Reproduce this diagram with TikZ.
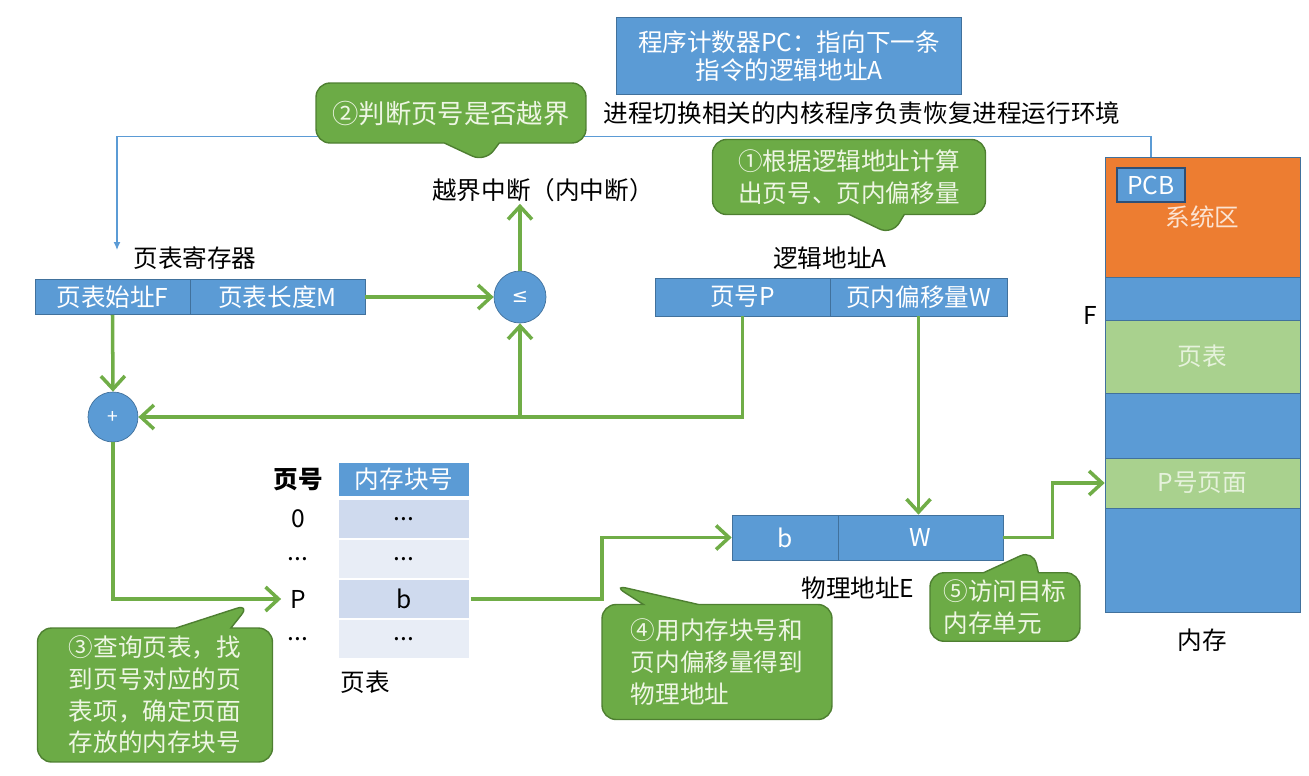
\documentclass[tikz,border=0pt]{standalone}
\usepackage{fontspec}
\setmainfont{Noto Sans CJK SC}
\newfontfamily\symfont{DejaVu Sans}
\usetikzlibrary{arrows.meta,shapes.callouts}
\definecolor{boxblue}{HTML}{5B9BD5}
\definecolor{boxedge}{HTML}{41719C}
\definecolor{pcbedge}{HTML}{2F4F75}
\definecolor{sysorange}{HTML}{ED7D31}
\definecolor{systext}{HTML}{FBE3D2}
\definecolor{pagegreen}{HTML}{A9D18E}
\definecolor{pagetext}{HTML}{E6F2DC}
\definecolor{flowgreen}{HTML}{70AD47}
\definecolor{notegreen}{HTML}{6CAB46}
\definecolor{noteedge}{HTML}{4E7F31}
\definecolor{notetext}{HTML}{EEF6E4}
\definecolor{rowdark}{HTML}{CFDAEE}
\definecolor{rowlight}{HTML}{E8EDF6}
\tikzset{
  lbl/.style={font=\fontsize{14}{17}\selectfont, inner sep=1pt},
  blk/.style={draw=boxedge, fill=boxblue, text=white, inner sep=0pt,
    font=\fontsize{14}{16}\selectfont},
  seg/.style={draw=boxedge, fill=#1, minimum width=3.9cm, inner sep=0pt,
    font=\fontsize{14}{16}\selectfont},
  cell/.style={fill=#1, draw=white, line width=1pt, minimum width=2.64cm,
    minimum height=0.8cm, inner sep=0pt, font=\fontsize{14}{16}\selectfont},
  note/.style={rectangle callout, rounded corners=8pt, draw=noteedge, line width=0.8pt,
    fill=notegreen, text=notetext, align=left, inner sep=4pt,
    font=\fontsize{14}{18}\selectfont, callout pointer width=1.1cm},
  flow/.style={draw=flowgreen, line width=2pt, -{Straight Barb[length=2.6mm,width=4.8mm]}},
  kline/.style={draw=boxblue, line width=0.7pt, -{Latex[length=1.6mm,width=1.4mm]}},
}
\begin{document}
\begin{tikzpicture}[x=0.02cm, y=-0.02cm]
\useasboundingbox (0,0) rectangle (1309,775);

% program counter
\node[blk, minimum width=6.9cm, minimum height=1.54cm, align=center] (pc) at (789,56)
  {程序计数器PC：指向下一条\\指令的逻辑地址A};
\node[lbl] (kern) at (862,113) {进程切换相关的内核程序负责恢复进程运行环境};

% page table register
\node[lbl] (regname) at (195,258) {页表寄存器};
\node[blk, minimum width=3.1cm, minimum height=0.7cm] (reg1) at (112.5,297) {页表始址F};
\node[blk, minimum width=3.5cm, minimum height=0.7cm] (reg2) at (277.5,297) {页表长度M};

% comparator and adder
\node[blk, circle, minimum size=1.04cm, font=\symfont\fontsize{11}{13}\selectfont] (le) at (520,297) {≤};
\node[blk, circle, minimum size=1.0cm, font=\fontsize{11}{13}\selectfont] (plus) at (113,417) {+};
\node[lbl] (oob) at (543,190) {越界中断（内中断）};

% logical address
\node[lbl] (laname) at (830,258) {逻辑地址A};
\node[blk, minimum width=3.5cm, minimum height=0.76cm] (la1) at (742.5,297) {页号P};
\node[blk, minimum width=3.54cm, minimum height=0.76cm] (la2) at (918.5,297) {页内偏移量W};

% physical address
\node[blk, minimum width=2.12cm, minimum height=0.9cm] (pa1) at (785,537.5) {b};
\node[blk, minimum width=3.3cm, minimum height=0.9cm] (pa2) at (920.5,537.5) {W};
\node[lbl] (paname) at (858,588) {物理地址E};

% page table
\node[lbl, font=\fontsize{14}{17}\selectfont\bfseries] (pno) at (298,480) {页号};
\node[cell=boxblue, text=white, minimum height=0.7cm] (thead) at (404,479.5) {内存块号};
\node[cell=rowdark] (r0) at (404,519) {...};
\node[cell=rowlight] (r1) at (404,559) {...};
\node[cell=rowdark] (rb) at (404,599) {b};
\node[cell=rowlight] (r3) at (404,639) {...};
\node[lbl] (p0) at (298,519) {0};
\node[lbl] (pd1) at (298,559) {...};
\node[lbl] (pP) at (298,599) {P};
\node[lbl] (pd3) at (298,639) {...};
\node[lbl] (ptname) at (365,682) {页表};

% memory
\node[seg=sysorange, minimum height=2.4cm, text=systext] (sys) at (1202.5,217) {系统区};
\node[seg=boxblue, minimum height=0.86cm] (m1) at (1202.5,298.5) {};
\node[seg=pagegreen, minimum height=1.46cm, text=pagetext] (pt) at (1202.5,356.5) {页表};
\node[seg=boxblue, minimum height=1.3cm] (m2) at (1202.5,425.5) {};
\node[seg=pagegreen, minimum height=1.0cm, text=pagetext] (pp) at (1202.5,483) {P号页面};
\node[seg=boxblue, minimum height=2.08cm] (m3) at (1202.5,560) {};
\node[blk, draw=pcbedge, line width=1.2pt, minimum width=1.36cm, minimum height=0.68cm] (pcb) at (1151,185) {PCB};
\node[lbl] (F) at (1090,315) {F};
\node[lbl] (memname) at (1202,640) {内存};

% restore register from PCB
\coordinate (rin) at (117,250);
\draw[kline] (pcb.north |- sys.north) -- ++(0,-20) -| (rin);

% data flow
\draw[flow] (reg2.east) -- (le.west);
\draw[flow] (le.north) -- (le.north |- oob.south);
\draw[flow] (reg1.south) -- (plus.north);
\draw[flow] (la1.south) |- (plus.east);
\coordinate (jn) at (le.south |- plus.east);
\draw[flow] (jn) -- (le.south);
\draw[flow] (la2.south) -- (la2.south |- pa2.north);
\draw[flow] (plus.south) |- ([xshift=-4pt]pP.west);
\draw[flow] (rb.east) -- ++(131,0) |- (pa1.west);
\draw[flow] (pa2.east) -- ++(49,0) |- (pp.west);

% callouts
\node[note, minimum width=5.4cm, minimum height=1.2cm, align=center,
  font=\fontsize{15}{18}\selectfont, callout absolute pointer={(485,162)}] (n2) at (451,113)
  {②判断页号是否越界};
\node[note, minimum width=5.46cm, minimum height=1.5cm, callout absolute pointer={(892,235)}] (n1) at (849,177)
  {①根据逻辑地址计算\\出页号、页内偏移量};
\node[note, minimum width=4.7cm, minimum height=2.68cm, callout absolute pointer={(250,604)}] (n3) at (155,695)
  {③查询页表，找\\到页号对应的页\\表项，确定页面\\存放的内存块号};
\node[note, minimum width=4.6cm, minimum height=2.3cm, callout absolute pointer={(613,585)}] (n4) at (717,662)
  {④用内存块号和\\页内偏移量得到\\物理地址};
\node[note, minimum width=3.0cm, minimum height=1.18cm, callout absolute pointer={(1033,550)}] (n5) at (1005,607)
  {⑤访问目标\\内存单元};
\end{tikzpicture}
\end{document}
